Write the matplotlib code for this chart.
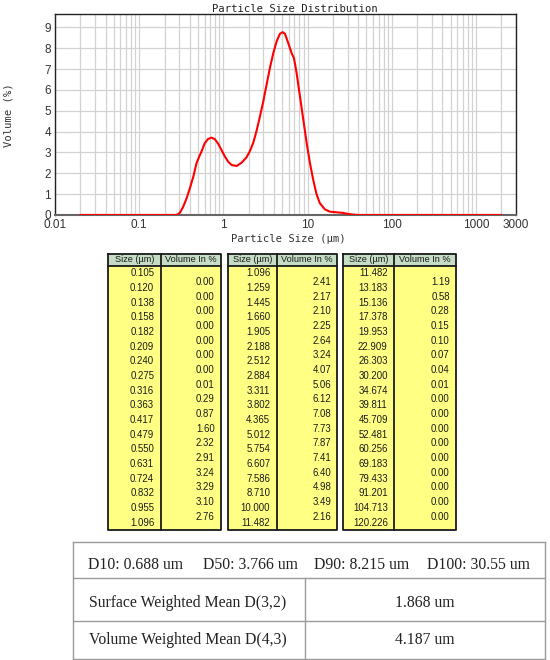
import matplotlib
matplotlib.use('Agg')
import matplotlib.pyplot as plt
from matplotlib.ticker import FixedLocator, NullFormatter
from matplotlib.patches import Rectangle

# curve (size in um, volume in %)
curve_size = [0.02, 0.28, 0.305, 0.334, 0.366, 0.40, 0.44, 0.48, 0.52, 0.55,
              0.60, 0.66, 0.725, 0.795, 0.87, 0.95, 1.045, 1.14, 1.25, 1.44,
              1.65, 1.89, 2.07, 2.27, 2.48, 2.72, 2.98, 3.26, 3.57, 3.92,
              4.29, 4.70, 5.06, 5.40, 5.91, 6.48, 6.91, 7.43, 8.14, 8.92,
              9.78, 10.7, 11.7, 12.8, 14.0, 16.1, 18.4, 22.1, 26.5, 30.4,
              34.9, 40, 2000]
curve_vol = [0, 0, 0.11, 0.40, 0.80, 1.28, 1.84, 2.48, 2.83, 3.04,
             3.44, 3.65, 3.71, 3.63, 3.41, 3.12, 2.80, 2.56, 2.40, 2.35,
             2.51, 2.77, 3.07, 3.47, 4.03, 4.72, 5.44, 6.24, 7.04, 7.76,
             8.32, 8.69, 8.77, 8.69, 8.24, 7.76, 7.52, 6.80, 5.68, 4.56,
             3.44, 2.48, 1.68, 1.00, 0.57, 0.27, 0.16, 0.13, 0.10, 0.05,
             0.02, 0, 0]

tick_vals = [0.01, 0.1, 1, 10, 100, 1000, 3000]
tick_labels = ['0.01', '0.1', '1', '10', '100', '1000', '3000']

sizes1 = [0.105, 0.120, 0.138, 0.158, 0.182, 0.209, 0.240, 0.275, 0.316,
          0.363, 0.417, 0.479, 0.550, 0.631, 0.724, 0.832, 0.955, 1.096]
vols1 = [0.00, 0.00, 0.00, 0.00, 0.00, 0.00, 0.00, 0.01, 0.29,
         0.87, 1.60, 2.32, 2.91, 3.24, 3.29, 3.10, 2.76]
sizes2 = [1.096, 1.259, 1.445, 1.660, 1.905, 2.188, 2.512, 2.884, 3.311,
          3.802, 4.365, 5.012, 5.754, 6.607, 7.586, 8.710, 10.000, 11.482]
vols2 = [2.41, 2.17, 2.10, 2.25, 2.64, 3.24, 4.07, 5.06, 6.12,
         7.08, 7.73, 7.87, 7.41, 6.40, 4.98, 3.49, 2.16]
sizes3 = [11.482, 13.183, 15.136, 17.378, 19.953, 22.909, 26.303, 30.200, 34.674,
          39.811, 45.709, 52.481, 60.256, 69.183, 79.433, 91.201, 104.713, 120.226]
vols3 = [1.19, 0.58, 0.28, 0.15, 0.10, 0.07, 0.04, 0.01, 0.00,
         0.00, 0.00, 0.00, 0.00, 0.00, 0.00, 0.00, 0.00]

d_labels = ['D10', 'D50', 'D90', 'D100']
d_values = ['0.688', '3.766', '8.215', '30.55']
mean_labels = ['Surface Weighted Mean D(3,2)', 'Volume Weighted Mean D(4,3)']
mean_values = ['1.868', '4.187']

W, H = 550, 660
fig = plt.figure(figsize=(5.5, 6.6), dpi=100)

# ---- chart ----
ax = fig.add_axes([55 / W, 1 - 215 / H, 461 / W, 201 / H])
ax.plot(curve_size, curve_vol, color='red', lw=1.5, zorder=3,
        solid_joinstyle='round')
ax.set_xscale('log')
ax.set_xlim(0.01, 3000)
ax.set_ylim(0, 9.64)
ax.set_xticks(tick_vals)
ax.set_xticklabels(tick_labels)
minor = [m * 10.0 ** e for e in range(-2, 4) for m in range(2, 10)
         if m * 10.0 ** e < 3000]
ax.xaxis.set_minor_locator(FixedLocator(minor))
ax.xaxis.set_minor_formatter(NullFormatter())
ax.set_yticks(range(10))
ax.grid(True, which='both', axis='x', color='#d2d2d2', lw=0.9)
ax.grid(True, which='major', axis='y', color='#d2d2d2', lw=0.9)
ax.set_axisbelow(True)
ax.tick_params(which='both', length=0, labelsize=8.5, labelcolor='#333333', pad=3)
for lab in ax.get_xticklabels() + ax.get_yticklabels():
    lab.set_family('Liberation Sans')
for side in ['top', 'right', 'left']:
    ax.spines[side].set_color('#222222')
    ax.spines[side].set_linewidth(1.0)
ax.spines['bottom'].set_color('#666666')
ax.spines['bottom'].set_linewidth(1.5)

mono = 'DejaVu Sans Mono'
fig.text(295 / W, 1 - 8.5 / H, 'Particle Size Distribution', ha='center',
         va='center', family=mono, size=7.6, color='#222222')
fig.text(9 / W, 1 - 115 / H, 'Volume (%)', ha='center', va='center',
         rotation=90, family=mono, size=7.6, color='#333333')
fig.text(288 / W, 1 - 239 / H, 'Particle Size (µm)', ha='center',
         va='center', family=mono, size=7.6, color='#333333')

# ---- tables (drawn in pixel coords) ----
tax = fig.add_axes([0, 0, 1, 1])
tax.set_xlim(0, W)
tax.set_ylim(H, 0)
tax.axis('off')

head_top, head_bot, body_bot = 253.5, 266, 530
head_col = '#c5dcc5'
yellow = '#ffff84'
narrow = 'Liberation Sans'
fs = 6.9


def yellow_table(x0, xd, x1, sizes, vols):
    tax.add_patch(Rectangle((x0, head_top), x1 - x0, head_bot - head_top,
                            fc=head_col, ec='none'))
    tax.add_patch(Rectangle((x0, head_bot), x1 - x0, body_bot - head_bot,
                            fc=yellow, ec='none'))
    kw = dict(color='#1a1a1a', lw=1.3, solid_capstyle='projecting')
    tax.plot([x0, x1, x1, x0, x0],
             [head_top, head_top, body_bot, body_bot, head_top], **kw)
    tax.plot([x0, x1], [head_bot, head_bot], **kw)
    tax.plot([xd, xd], [head_top, body_bot], **kw)
    hy = (head_top + head_bot) / 2
    tax.text((x0 + xd) / 2, hy, 'Size (µm)', ha='center', va='center',
             family=narrow, size=fs - 0.3, color='#1a1a1a')
    tax.text((xd + x1) / 2, hy, 'Volume In %', ha='center', va='center',
             family=narrow, size=fs - 0.3, color='#1a1a1a')
    rh = (body_bot - head_bot) / 18
    for i, s in enumerate(sizes):
        tax.text(xd - 6.5, head_bot + (i + 0.5) * rh, f'{s:.3f}', ha='right',
                 va='center', family=narrow, size=fs, color='#1a1a1a')
    for j, v in enumerate(vols):
        tax.text(x1 - 6, head_bot + (j + 1.1) * rh, f'{v:.2f}', ha='right',
                 va='center', family=narrow, size=fs, color='#1a1a1a')


yellow_table(108.3, 160.7, 220.7, sizes1, vols1)
yellow_table(228.3, 276.7, 337.3, sizes2, vols2)
yellow_table(343.3, 394.3, 455.7, sizes3, vols3)

# summary table
bx0, bx1, bdiv = 73, 545, 305
rows_y = [542, 578, 621, 659]
gkw = dict(color='#9a9a9a', lw=1.0)
for y in rows_y:
    tax.plot([bx0, bx1], [y, y], **gkw)
tax.plot([bx0, bx0], [rows_y[0], rows_y[-1]], **gkw)
tax.plot([bx1, bx1], [rows_y[0], rows_y[-1]], **gkw)
tax.plot([bdiv, bdiv], [rows_y[1], rows_y[-1]], **gkw)

serif = 'Liberation Serif'
d_x = [135, 250, 362, 478]
for x, lab, val in zip(d_x, d_labels, d_values):
    tax.text(x, 565, f'{lab}: {val} um', ha='center', va='center',
             family=serif, size=11.3, color='#222222')
for y, lab, val in zip([603, 640], mean_labels, mean_values):
    tax.text(188, y, lab, ha='center', va='center', family=serif, size=11.3,
             color='#222222')
    tax.text(425, y, f'{val} um', ha='center', va='center', family=serif,
             size=11.3, color='#222222')

fig.savefig('out.png', dpi=100)
